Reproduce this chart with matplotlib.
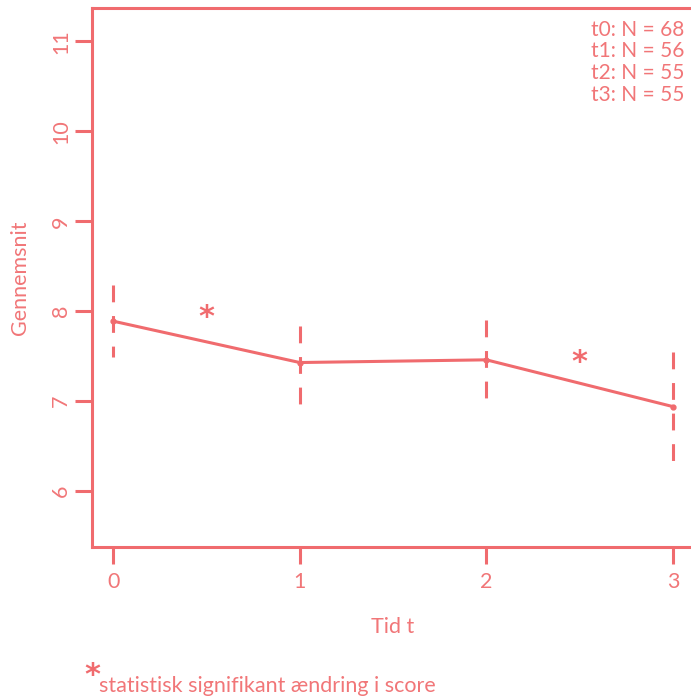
import matplotlib
matplotlib.use("Agg")
import matplotlib.pyplot as plt

# Data
times = [0, 1, 2, 3]
means = [7.89, 7.43, 7.46, 6.94]
lower = [7.49, 6.94, 6.97, 6.31]
upper = [8.29, 7.84, 7.90, 7.55]
sig_x = [0.5, 2.5]
sig_y = [7.93, 7.43]
n_labels = ["t0: N = 68", "t1: N = 56", "t2: N = 55", "t3: N = 55"]
yticks = [6, 7, 8, 9, 10, 11]
xticks = [0, 1, 2, 3]

col = "#F06B6E"
tcol = "#F17678"
plt.rcParams['font.family'] = ['Lato', 'DejaVu Sans']

fig = plt.figure(figsize=(6.91, 7.0), dpi=100)
W, H = 691, 700
ax = fig.add_axes([92 / W, 1 - 547 / H, (693 - 92) / W, (547 - 8) / H])
ax.set_xlim(-0.113, 3.107)
ax.set_ylim(5.38, 11.37)

ax.plot(times, means, color=col, lw=2.2, marker='o', ms=3.5, zorder=3)
for t, lo, hi in zip(times, lower, upper):
    ax.plot([t, t], [hi, lo], color=col, lw=2.2, linestyle=(0, (5.5, 4.5)), zorder=2)
for x, y in zip(sig_x, sig_y):
    ax.text(x, y, "*", color=col, fontsize=22, fontweight='bold', ha='center', va='center',
            family='DejaVu Sans')

ax.text(0.985, 0.978, "\n".join(n_labels), transform=ax.transAxes, ha='right', va='top',
        color=tcol, fontsize=15, linespacing=1.1)

for s in ax.spines.values():
    s.set_color(col)
    s.set_linewidth(2.2)
ax.spines['right'].set_visible(False)

ax.set_yticks(yticks)
ax.set_xticks(xticks)
ax.set_yticklabels([str(v) for v in yticks], rotation=90, va='center')
ax.tick_params(axis='both', colors=col, labelcolor=tcol, length=12, width=2.2,
               labelsize=15.5)
ax.tick_params(axis='y', pad=3)
ax.tick_params(axis='x', pad=6)

ax.set_xlabel("Tid t", color=tcol, fontsize=15.5, labelpad=18)
ax.set_ylabel("Gennemsnit", color=tcol, fontsize=15.5, labelpad=15)

fig.text(92 / W, 1 - 676 / H, "*", color=col, fontsize=22, fontweight='bold', ha='center', va='center',
         family='DejaVu Sans')
fig.text(99 / W, 1 - 686 / H, "statistisk signifikant ændring i score", color=tcol,
         fontsize=15.5, ha='left', va='center')

fig.savefig("out.png", dpi=100)
